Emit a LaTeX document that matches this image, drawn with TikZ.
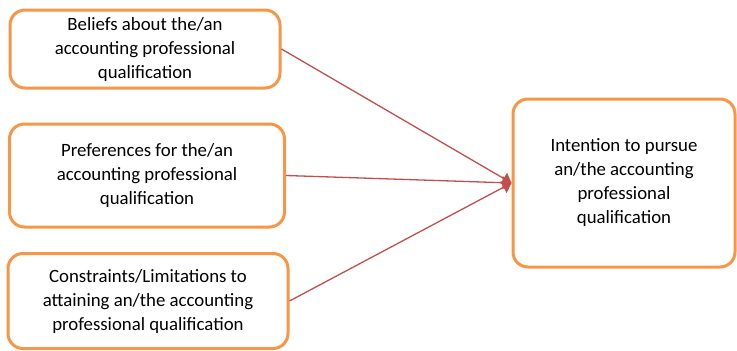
\documentclass[tikz,border=0pt]{standalone}
\usepackage{fontspec}
\setmainfont{Carlito}
\usepackage{xcolor}
\usetikzlibrary{positioning,arrows.meta}
\definecolor{boxorange}{RGB}{247,150,70}
\definecolor{linkred}{RGB}{192,80,77}

\begin{document}
\begin{tikzpicture}[x=1pt,y=-1pt,
    factor/.style={draw=boxorange,line width=3pt,rounded corners=15pt,fill=white,
        align=center,inner sep=0pt,font=\fontsize{18.8}{24}\selectfont},
    link/.style={draw=linkred,line width=1.3pt,-{Triangle[length=9pt,width=13pt]}}]
        \useasboundingbox (0,0) rectangle (737,351);

        % influencing factors
        \node[factor,minimum width=270pt,minimum height=78pt] (beliefs) at (145,49)
            {Beliefs about the/an\\accounting professional\\qualification};
        \node[factor,minimum width=275pt,minimum height=103pt] (prefs) at (147,175.5)
            {Preferences for the/an\\accounting professional\\qualification};
        \node[factor,minimum width=280pt,minimum height=95pt] (limits) at (148,301)
            {Constraints/Limitations to\\attaining an/the accounting\\professional qualification};

        % outcome
        \node[factor,minimum width=222pt,minimum height=168pt] (intent) at (624,183)
            {Intention to pursue\\an/the accounting\\professional\\qualification};

        \draw[link] (beliefs.east) -- (intent.west);
        \draw[link] (prefs.east) -- (intent.west);
        \draw[link] (limits.east) -- (intent.west);
    \end{tikzpicture}
\end{document}
